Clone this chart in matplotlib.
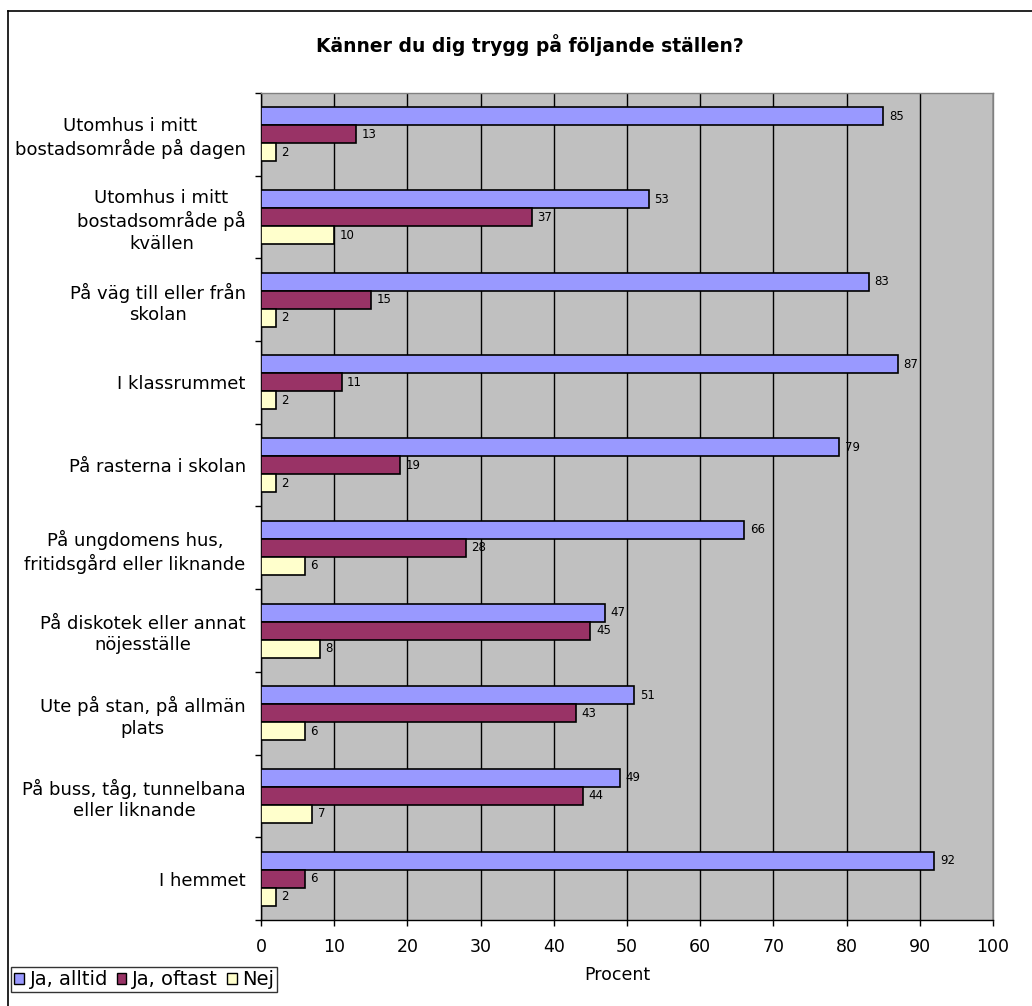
import matplotlib
matplotlib.use("Agg")
import matplotlib.pyplot as plt
from matplotlib.patches import Patch
from matplotlib.lines import Line2D
import numpy as np

categories = [
    "Utomhus i mitt\nbostadsområde på dagen",
    "Utomhus i mitt\nbostadsområde på\nkvällen",
    "På väg till eller från\nskolan",
    "I klassrummet",
    "På rasterna i skolan",
    "På ungdomens hus,\nfritidsgård eller liknande",
    "På diskotek eller annat\nnöjesställe",
    "Ute på stan, på allmän\nplats",
    "På buss, tåg, tunnelbana\neller liknande",
    "I hemmet",
]
ja_alltid = [85, 53, 83, 87, 79, 66, 47, 51, 49, 92]
ja_oftast = [13, 37, 15, 11, 19, 28, 45, 43, 44, 6]
nej = [2, 10, 2, 2, 2, 6, 8, 6, 7, 2]
series_names = ["Ja, alltid", "Ja, oftast", "Nej"]
colors = ["#9999FF", "#993366", "#FFFFCC"]
xticks = list(range(0, 101, 10))

W, H = 1032, 1006
fig = plt.figure(figsize=(W / 100, H / 100), dpi=100)
fig.patch.set_facecolor("white")

ax = fig.add_axes([261 / W, 1 - 920 / H, (993 - 261) / W, (920 - 93) / H])
ax.set_facecolor("#C0C0C0")

n = len(categories)
y = np.arange(n)
h = 0.218
series = [ja_alltid, ja_oftast, nej]
offsets = [-h, 0, h]
for vals, col, off, name in zip(series, colors, offsets, series_names):
    bars = ax.barh(y + off, vals, height=h, color=col, edgecolor="black",
                   linewidth=1.2, label=name, zorder=3)
    for b, v in zip(bars, vals):
        ax.annotate(str(v), (b.get_width(), b.get_y() + b.get_height() / 2),
                    xytext=(4, 0), textcoords="offset points",
                    ha="left", va="center", fontsize=8.5, color="black", zorder=4)

ax.set_xlim(0, 100)
ax.set_ylim(n - 0.5, -0.5)
ax.set_xticks(xticks)
ax.set_xticklabels([str(t) for t in xticks], fontsize=12.5)
ax.xaxis.grid(True, color="black", linewidth=1.0, zorder=1)
ax.set_axisbelow(True)

ax.set_yticks(y)
ax.set_yticklabels(categories, fontsize=13)
for lab in ax.get_yticklabels():
    lab.set_multialignment("center")
    lab.set_linespacing(1.25)
ax.tick_params(axis="y", which="major", length=0, pad=11)
ax.set_yticks(np.arange(-0.5, n, 1.0), minor=True)
ax.tick_params(axis="y", which="minor", length=4, width=1, color="black", direction="out")
ax.tick_params(axis="x", which="major", length=4, width=1, color="black", direction="out", pad=9)

for s in ["top", "right"]:
    ax.spines[s].set_color("#808080")
    ax.spines[s].set_linewidth(1.0)
for s in ["left", "bottom"]:
    ax.spines[s].set_color("black")
    ax.spines[s].set_linewidth(1.0)

ax.set_xlabel("Procent", fontsize=12.5)
ax.xaxis.set_label_coords((617 - 261) / (993 - 261), -(975 - 920) / (920 - 93))
ax.xaxis.label.set_va("center")

fig.text(530 / W, 1 - 45 / H, "Känner du dig trygg på följande ställen?",
         ha="center", va="center", fontsize=13.5, fontweight="bold")

handles = [Patch(facecolor=c, edgecolor="black", linewidth=1.0) for c in colors]
leg = fig.legend(handles, series_names, loc="lower left",
                 bbox_to_anchor=(11 / W, 1 - 992 / H), fontsize=14,
                 ncol=3, frameon=True, fancybox=False, borderpad=0.15,
                 handlelength=0.5, handleheight=0.5, handletextpad=0.3,
                 columnspacing=0.45, borderaxespad=0)
leg.get_frame().set_edgecolor("black")
leg.get_frame().set_linewidth(1.0)

fig.add_artist(Line2D([8 / W, 8 / W], [0, 1 - 11 / H], transform=fig.transFigure,
                      color="black", linewidth=1.2))
fig.add_artist(Line2D([8 / W, 1], [1 - 11 / H, 1 - 11 / H], transform=fig.transFigure,
                      color="black", linewidth=1.2))

fig.savefig("out.png", dpi=100, facecolor="white")
